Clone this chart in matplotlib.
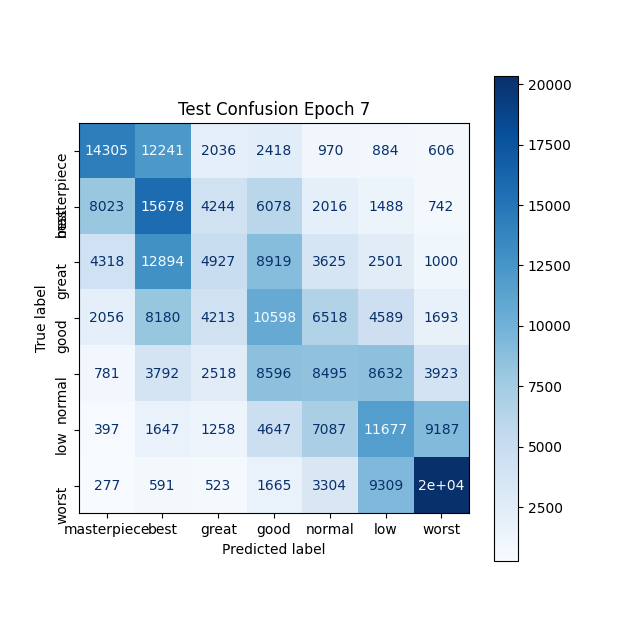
import numpy as np
import matplotlib
matplotlib.use("Agg")
import matplotlib.pyplot as plt

labels = ["masterpiece", "best", "great", "good", "normal", "low", "worst"]
row_masterpiece = [14305, 12241, 2036, 2418, 970, 884, 606]
row_best = [8023, 15678, 4244, 6078, 2016, 1488, 742]
row_great = [4318, 12894, 4927, 8919, 3625, 2501, 1000]
row_good = [2056, 8180, 4213, 10598, 6518, 4589, 1693]
row_normal = [781, 3792, 2518, 8596, 8495, 8632, 3923]
row_low = [397, 1647, 1258, 4647, 7087, 11677, 9187]
row_worst = [277, 591, 523, 1665, 3304, 9309, 20360]

cm = np.array([row_masterpiece, row_best, row_great, row_good,
               row_normal, row_low, row_worst], dtype=int)
n = len(labels)

fig, ax = plt.subplots(figsize=(6.3, 6.3), dpi=100)
cmap = plt.get_cmap("Blues")
im = ax.imshow(cm, interpolation="nearest", cmap=cmap)
cmap_min, cmap_max = im.cmap(0), im.cmap(1.0)
thresh = (cm.max() + cm.min()) / 2.0
for i in range(n):
    for j in range(n):
        color = cmap_max if cm[i, j] < thresh else cmap_min
        t = format(cm[i, j], ".2g")
        d = format(cm[i, j], "d")
        if len(d) < len(t):
            t = d
        ax.text(j, i, t, ha="center", va="center", color=color)
fig.colorbar(im, ax=ax)
ax.set_xticks(np.arange(n))
ax.set_xticklabels(labels)
ax.set_yticks(np.arange(n))
ax.set_yticklabels(labels, rotation=90, va="top", rotation_mode="default")
ax.set_ylabel("True label")
ax.set_xlabel("Predicted label")
ax.set_ylim((n - 0.5, -0.5))
ax.set_title("Test Confusion Epoch 7")
fig.savefig("out.png", dpi=100)
